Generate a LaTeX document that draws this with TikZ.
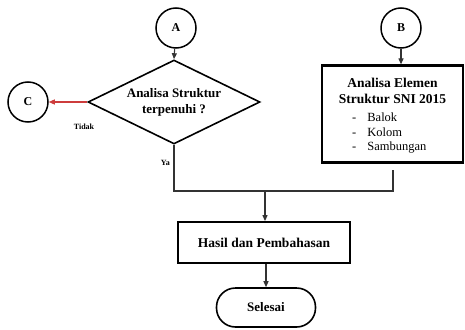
\documentclass[tikz,border=0pt]{standalone}
\usepackage{fontspec}
\setmainfont{Liberation Serif}
\usetikzlibrary{shapes.geometric,arrows.meta}
\definecolor{arrred}{RGB}{205,60,60}
\begin{document}
\begin{tikzpicture}[x=1pt,y=-1pt,
  conn/.style={line width=1.1pt,draw=black!80},
  arr/.style={conn,-{Triangle[length=6pt,width=5pt]}},
  circ/.style={circle,draw,line width=1.5pt,minimum size=40pt,inner sep=0pt,font=\fontsize{12}{14}\selectfont\bfseries},
  decis/.style={diamond,draw,line width=1.6pt,shape aspect=2,inner sep=0pt,minimum width=172pt,minimum height=84pt,align=center,font=\fontsize{13}{16}\selectfont\bfseries},
  procbox/.style={rectangle,draw,line width=1.8pt,inner sep=0pt,align=center},
  term/.style={rectangle,rounded corners=19pt,draw,line width=1.6pt,minimum width=99pt,minimum height=39pt,inner sep=0pt,font=\fontsize{13}{16}\selectfont\bfseries},
  lbl/.style={font=\fontsize{8}{9}\selectfont\bfseries,inner sep=0pt}]
\useasboundingbox (0,0) rectangle (465,329);
\node[circ] (A) at (176,28) {A};
\node[circ] (B) at (401,28) {B};
\node[circ] (C) at (28,102) {C};
\node[decis] (D) at (174,102) {Analisa Struktur\\terpenuhi ?};
\node[procbox,line width=2.2pt,minimum width=141pt,minimum height=97pt] (E) at (392.5,114) {};
\node[font=\fontsize{13.5}{16.5}\selectfont\bfseries,align=center,inner sep=0pt] (Et) at (392.5,91) {Analisa Elemen\\Struktur SNI 2015};
\node[font=\fontsize{12.5}{15}\selectfont,anchor=west,inner sep=0pt] (e1) at (352,117) {-\hspace{11pt}Balok};
\node[font=\fontsize{12.5}{15}\selectfont,anchor=west,inner sep=0pt] (e2) at (352,132) {-\hspace{11pt}Kolom};
\node[font=\fontsize{12.5}{15}\selectfont,anchor=west,inner sep=0pt] (e3) at (352,148) {-\hspace{11pt}Sambungan};
\node[procbox,minimum width=172pt,minimum height=41pt,font=\fontsize{13.5}{16}\selectfont\bfseries] (H) at (264,242.5) {Hasil dan Pembahasan};
\node[term] (S) at (266,307.5) {Selesai};
\node[lbl] (tidak) at (84,127) {Tidak};
\node[lbl,anchor=east] (ya) at (170,163) {Ya};
\coordinate (eb) at (393,170);
\coordinate (j1) at (174,191);
\coordinate (j2) at (393,191);
\coordinate (jm) at (265,191);
\draw[arr] (A) -- (D.north);
\draw[arr] (B) -- (E.north -| B);
\draw[arr,draw=arrred] (D.west) -- (C.east);
\draw[conn] (D.south) -- (j1) -- (j2) -- (eb);
\draw[arr] (jm) -- (H.north -| jm);
\draw[arr] (H.south -| S) -- (S.north);
\end{tikzpicture}
\end{document}
